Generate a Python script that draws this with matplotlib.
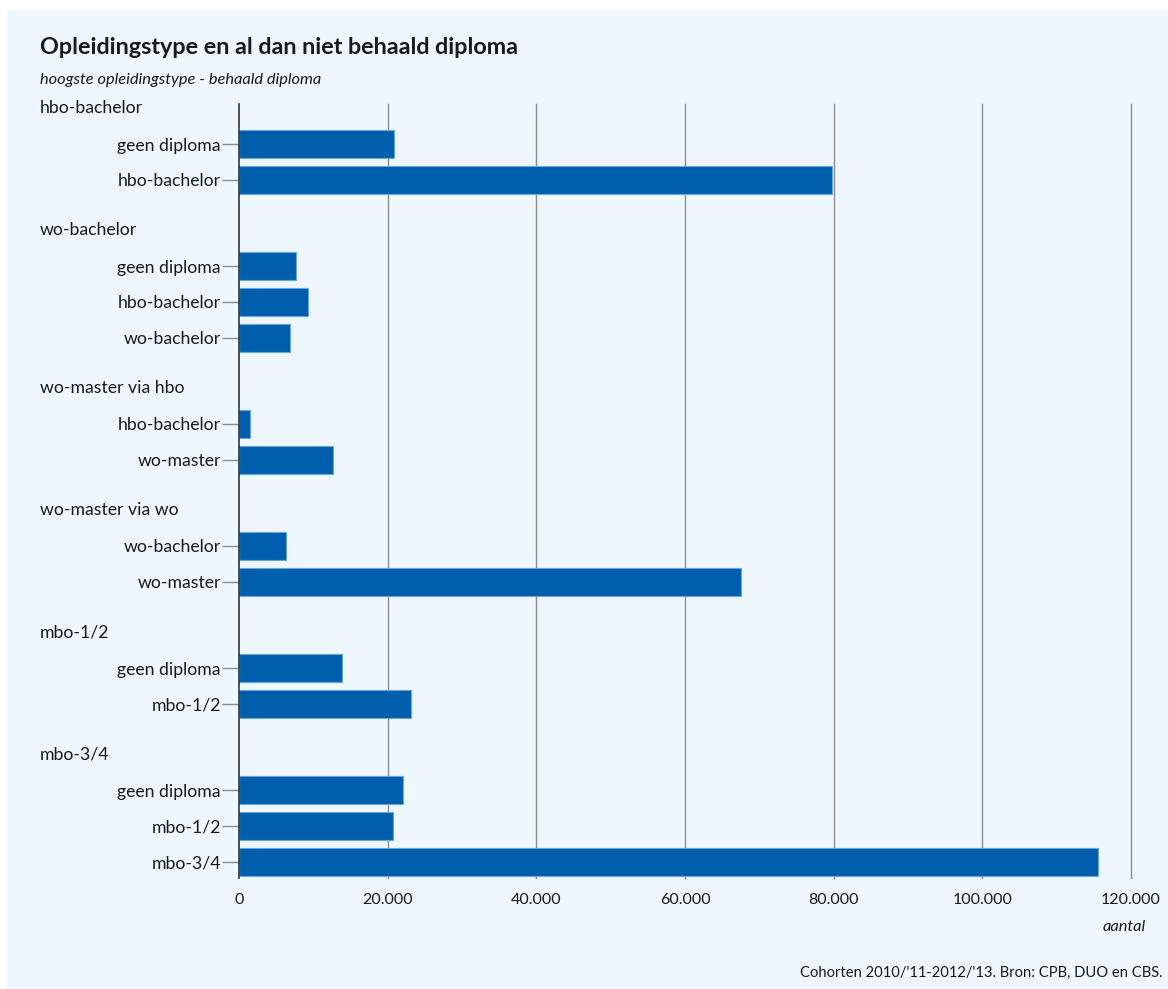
import matplotlib
matplotlib.use("Agg")
import matplotlib.pyplot as plt
import matplotlib.transforms as mtransforms
from matplotlib.patches import Rectangle
from matplotlib.ticker import FuncFormatter

# hoogste opleidingstype -> behaald diploma, aantallen
groups = ["hbo-bachelor", "wo-bachelor", "wo-master via hbo",
          "wo-master via wo", "mbo-1/2", "mbo-3/4"]
diplomas = [
    ["geen diploma", "hbo-bachelor"],
    ["geen diploma", "hbo-bachelor", "wo-bachelor"],
    ["hbo-bachelor", "wo-master"],
    ["wo-bachelor", "wo-master"],
    ["geen diploma", "mbo-1/2"],
    ["geen diploma", "mbo-1/2", "mbo-3/4"],
]
counts = [
    [20900, 79800],
    [7700, 9300, 6900],
    [1500, 12600],
    [6300, 67500],
    [13900, 23100],
    [22100, 20700, 115500],
]
x_ticks = [0, 20000, 40000, 60000, 80000, 100000, 120000]

bg = "#edf7fd"
bar_color = "#005fad"
text_color = "#1a1a1a"
plt.rcParams["font.family"] = ["Lato", "DejaVu Sans"]

W, H = 1168, 989
fig = plt.figure(figsize=(W / 100, H / 100), dpi=100, facecolor="white")
fig.patches.append(Rectangle((7 / W, 0), 1 - 7 / W, 1 - 10 / H,
                             transform=fig.transFigure, facecolor=bg,
                             edgecolor="none", zorder=-10))

ax = fig.add_axes([239 / W, 1 - 878 / H, (1131 - 239) / W, (878 - 104) / H])
ax.set_facecolor(bg)

# row layout: group header row followed by one row per diploma
gap = 14 / 36
pos = 0.0
header_y, bar_y, bar_vals, bar_labels = [], [], [], []
for gi, (g, ds, cs) in enumerate(zip(groups, diplomas, counts)):
    if gi > 0:
        pos += 1 + gap
    header_y.append(pos)
    for d, c in zip(ds, cs):
        pos += 1
        bar_y.append(pos)
        bar_vals.append(c)
        bar_labels.append(d)

ax.barh(bar_y, bar_vals, height=0.78, color=bar_color,
        edgecolor="#6aa6da", linewidth=0.8, zorder=3)

ax.set_xlim(0, 120000)
ax.set_ylim(pos + 16 / 36, -4 / 36)
ax.set_yticks(bar_y)
ax.set_yticklabels(bar_labels)
ax.set_xticks(x_ticks)
ax.xaxis.set_major_formatter(FuncFormatter(lambda v, p: f"{int(v):,}".replace(",", ".")))

for v in x_ticks[1:]:
    ax.axvline(v, color="#8c8c8c", linewidth=1.0, zorder=1, clip_on=False)

for s in ["top", "right", "bottom"]:
    ax.spines[s].set_visible(False)
ax.spines["left"].set_color("#333333")
ax.spines["left"].set_linewidth(1.2)
ax.spines["left"].set_zorder(4)

ax.tick_params(axis="y", length=12, width=1, color="#8c8c8c", pad=1,
               labelsize=12.7, labelcolor=text_color)
ax.tick_params(axis="x", length=0, pad=11, labelsize=11.5, labelcolor=text_color)

trans = mtransforms.blended_transform_factory(fig.transFigure, ax.transData)
for g, y in zip(groups, header_y):
    ax.text(40 / W, y, g, transform=trans, ha="left", va="center",
            fontsize=12.7, color=text_color, clip_on=False)

fig.text(40 / W, 1 - 47 / H, "Opleidingstype en al dan niet behaald diploma",
         fontsize=16.8, fontweight="bold", color=text_color, va="center")
fig.text(40 / W, 1 - 80 / H, "hoogste opleidingstype - behaald diploma",
         fontsize=11.8, fontstyle="italic", color=text_color, va="center")
fig.text(1146 / W, 1 - 927 / H, "aantal", fontsize=11.8, fontstyle="italic",
         color=text_color, ha="right", va="center")
fig.text(1163 / W, 1 - 973 / H, "Cohorten 2010/'11-2012/'13. Bron: CPB, DUO en CBS.",
         fontsize=10.6, color=text_color, ha="right", va="center")

fig.savefig("out.png", dpi=100, facecolor=fig.get_facecolor())
